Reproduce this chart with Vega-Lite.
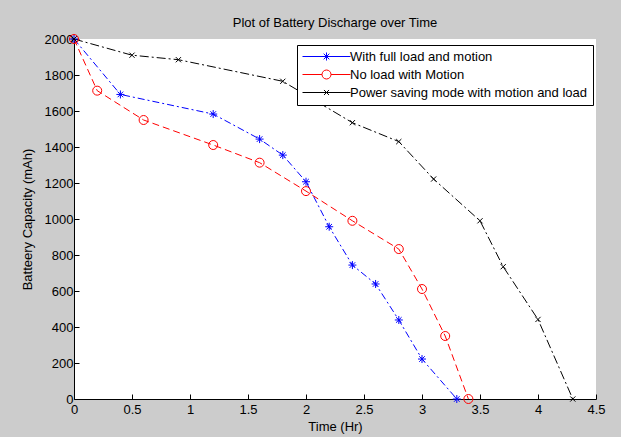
{
  "$schema": "https://vega.github.io/schema/vega-lite/v6.json",
  "width": 522,
  "height": 360,
  "autosize": {"type": "none"},
  "padding": {"left": 74, "top": 39, "right": 25, "bottom": 38},
  "background": "#cccccc",
  "config": {
    "font": "Liberation Sans",
    "view": {"fill": "white", "stroke": null},
    "axis": {"grid": false, "domainColor": "black", "tickColor": "black", "labelColor": "black", "titleColor": "black", "labelFontSize": 13, "titleFontSize": 13, "titleFontWeight": "normal", "labelFont": "Liberation Sans", "titleFont": "Liberation Sans"}
  },
  "title": {"text": "Plot of Battery Discharge over Time", "fontSize": 13, "fontWeight": "normal", "font": "Liberation Sans", "color": "black", "anchor": "middle", "offset": 3},
  "data": {"values": [
    {"series": "With full load and motion", "time": 0, "capacity": 2000},
    {"series": "With full load and motion", "time": 0.4, "capacity": 1692},
    {"series": "With full load and motion", "time": 1.2, "capacity": 1583},
    {"series": "With full load and motion", "time": 1.6, "capacity": 1444},
    {"series": "With full load and motion", "time": 1.8, "capacity": 1355},
    {"series": "With full load and motion", "time": 2.0, "capacity": 1207},
    {"series": "With full load and motion", "time": 2.2, "capacity": 957},
    {"series": "With full load and motion", "time": 2.4, "capacity": 744},
    {"series": "With full load and motion", "time": 2.6, "capacity": 639},
    {"series": "With full load and motion", "time": 2.8, "capacity": 439},
    {"series": "With full load and motion", "time": 3.0, "capacity": 222},
    {"series": "With full load and motion", "time": 3.3, "capacity": 0},
    {"series": "No load with Motion", "time": 0, "capacity": 2000},
    {"series": "No load with Motion", "time": 0.2, "capacity": 1713},
    {"series": "No load with Motion", "time": 0.6, "capacity": 1550},
    {"series": "No load with Motion", "time": 1.2, "capacity": 1411},
    {"series": "No load with Motion", "time": 1.6, "capacity": 1313},
    {"series": "No load with Motion", "time": 2.0, "capacity": 1155},
    {"series": "No load with Motion", "time": 2.4, "capacity": 990},
    {"series": "No load with Motion", "time": 2.8, "capacity": 833},
    {"series": "No load with Motion", "time": 3.0, "capacity": 611},
    {"series": "No load with Motion", "time": 3.2, "capacity": 350},
    {"series": "No load with Motion", "time": 3.4, "capacity": 0},
    {"series": "Power saving mode with motion and load", "time": 0, "capacity": 2000},
    {"series": "Power saving mode with motion and load", "time": 0.5, "capacity": 1910},
    {"series": "Power saving mode with motion and load", "time": 0.9, "capacity": 1885},
    {"series": "Power saving mode with motion and load", "time": 1.8, "capacity": 1765},
    {"series": "Power saving mode with motion and load", "time": 2.4, "capacity": 1535},
    {"series": "Power saving mode with motion and load", "time": 2.8, "capacity": 1430},
    {"series": "Power saving mode with motion and load", "time": 3.1, "capacity": 1222},
    {"series": "Power saving mode with motion and load", "time": 3.5, "capacity": 990},
    {"series": "Power saving mode with motion and load", "time": 3.7, "capacity": 735},
    {"series": "Power saving mode with motion and load", "time": 4.0, "capacity": 442},
    {"series": "Power saving mode with motion and load", "time": 4.3, "capacity": 0}
  ]},
  "encoding": {
    "x": {"field": "time", "type": "quantitative", "title": "Time (Hr)",
      "scale": {"domain": [0, 4.5], "nice": false, "zero": false},
      "axis": {"values": [0, 0.5, 1, 1.5, 2, 2.5, 3, 3.5, 4, 4.5], "labelExpr": "'' + datum.value", "tickSize": -5, "labelPadding": 9, "titlePadding": 4, "labelFlush": false}},
    "y": {"field": "capacity", "type": "quantitative", "title": "Batteery Capacity (mAh)",
      "scale": {"domain": [0, 2000], "nice": false},
      "axis": {"values": [0, 200, 400, 600, 800, 1000, 1200, 1400, 1600, 1800, 2000], "labelExpr": "'' + datum.value", "tickSize": -5, "labelPadding": 6, "titlePadding": 10, "labelFlush": false}},
    "color": {"field": "series", "type": "nominal",
      "scale": {"domain": ["With full load and motion", "No load with Motion", "Power saving mode with motion and load"], "range": ["#0000ff", "#ff0000", "#000000"]},
      "legend": {
        "title": null, "orient": "none", "legendX": 223, "legendY": 6,
        "strokeColor": "black", "fillColor": "white", "padding": 5,
        "labelFont": "Liberation Sans", "labelFontSize": 13, "labelColor": "black", "labelLimit": 400,
        "symbolSize": 144, "symbolStrokeWidth": 1, "rowPadding": 4, "labelOffset": 35,
        "encode": {"symbols": {"update": {
          "shape": {"signal": "datum.value === 'With full load and motion' ? 'M-1,0H7M2.33,0H3.67M3,-0.67V0.67M2.53,-0.47L3.47,0.47M2.53,0.47L3.47,-0.47' : datum.value === 'No load with Motion' ? 'M-1,0H2.25M3.75,0H7M3.75,0A0.75,0.75,0,1,1,2.25,0A0.75,0.75,0,1,1,3.75,0' : 'M-1,0H7M2.58,-0.42L3.42,0.42M2.58,0.42L3.42,-0.42'"},
          "fill": {"value": "transparent"},
          "strokeWidth": {"value": 1},
          "strokeDash": {"value": []},
          "opacity": {"value": 1}
        }}}
      }}
  },
  "layer": [
    {
      "transform": [{"filter": {"field": "series", "equal": "With full load and motion"}}],
      "mark": {"type": "line", "strokeWidth": 1, "strokeDash": [7, 3, 2, 3]}
    },
    {
      "transform": [{"filter": {"field": "series", "equal": "No load with Motion"}}],
      "mark": {"type": "line", "strokeWidth": 1, "strokeDash": [7, 4]}
    },
    {
      "transform": [{"filter": {"field": "series", "equal": "Power saving mode with motion and load"}}],
      "mark": {"type": "line", "strokeWidth": 1, "strokeDash": [9, 3, 2, 3]}
    },
    {
      "transform": [{"filter": {"field": "series", "equal": "With full load and motion"}}],
      "mark": {"type": "point", "filled": false, "strokeWidth": 1, "opacity": 1, "size": 64, "shape": "M-1,0H1M0,-1V1M-0.7,-0.7L0.7,0.7M-0.7,0.7L0.7,-0.7"}
    },
    {
      "transform": [{"filter": {"field": "series", "equal": "No load with Motion"}}],
      "mark": {"type": "point", "filled": false, "strokeWidth": 1, "opacity": 1, "size": 64, "shape": "M1.125,0A1.125,1.125,0,1,1,-1.125,0A1.125,1.125,0,1,1,1.125,0Z"}
    },
    {
      "transform": [{"filter": {"field": "series", "equal": "Power saving mode with motion and load"}}],
      "mark": {"type": "point", "filled": false, "strokeWidth": 1, "opacity": 1, "size": 64, "shape": "M-0.65,-0.65L0.65,0.65M-0.65,0.65L0.65,-0.65"}
    }
  ]
}
